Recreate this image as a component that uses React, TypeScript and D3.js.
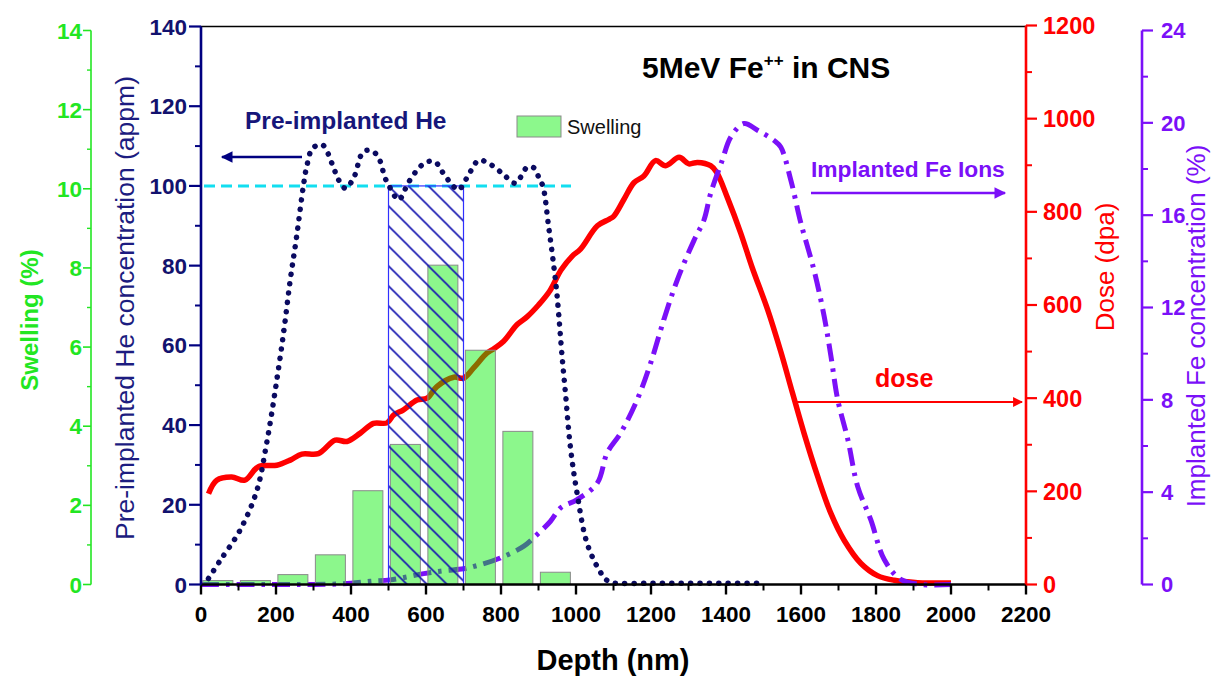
import React from "react";
import * as d3 from "d3";

// ---------------- data ----------------
const swellingBinStart = [0, 100, 200, 300, 400, 500, 600, 700, 800, 900];
const swellingValues = [0.1, 0.1, 0.25, 0.75, 2.37, 3.54, 8.07, 5.92, 3.87, 0.31];

const heDepth = [20, 51, 104, 149, 175, 198, 220, 238, 255, 273, 282, 298, 324, 349, 367, 385, 407, 433, 456, 474, 491, 505, 527, 554, 585, 605, 625, 643, 674, 687, 709, 740, 763, 803, 838, 870, 887, 901, 912, 927, 941, 950, 963, 972, 985, 1003, 1030, 1065, 1083, 1100, 1200, 1300, 1400, 1500];
const heConc = [1.5, 6, 13.6, 23.6, 35.4, 48.7, 63, 76.4, 87.3, 100, 104.9, 109.5, 110.3, 105.7, 101.5, 99.4, 102, 108.6, 108.8, 107, 102, 99.4, 96.5, 101, 104.9, 106.1, 106, 103.6, 99.8, 99, 102, 106.4, 105.9, 103.2, 100.7, 104.7, 104.6, 102.1, 99.8, 89.8, 79.7, 72, 57.1, 47.9, 34.5, 22.8, 10.2, 3.1, 1.0, 0.4, 0.3, 0.3, 0.3, 0.3];

const doseDepth = [20, 42, 82, 117, 153, 202, 238, 269, 313, 358, 389, 425, 460, 496, 514, 540, 576, 603, 629, 674, 700, 727, 763, 781, 807, 843, 870, 900, 930, 960, 990, 1012, 1057, 1088, 1101, 1128, 1155, 1181, 1212, 1239, 1275, 1301, 1324, 1359, 1375, 1404, 1439, 1470, 1511, 1546, 1577, 1608, 1644, 1680, 1715, 1760, 1804, 1849, 1911, 2000];
const doseDpa = [195, 224, 231, 224, 253, 256, 267, 280, 281, 310, 307, 325, 346, 347, 364, 375, 396, 400, 425, 445, 443, 465, 497, 506, 522, 558, 575, 600, 630, 675, 705, 720, 770, 784, 791, 827, 863, 877, 910, 899, 917, 903, 906, 899, 885, 830, 755, 680, 590, 500, 412, 325, 233, 152, 95, 45, 19, 9, 4, 3];

const feDepth = [0, 100, 200, 300, 400, 451, 505, 594, 650, 700, 745, 798, 861, 896, 932, 959, 1003, 1057, 1083, 1119, 1163, 1199, 1234, 1270, 1315, 1341, 1359, 1390, 1413, 1448, 1484, 1528, 1546, 1573, 1599, 1635, 1662, 1680, 1698, 1725, 1751, 1786, 1822, 1866, 1920, 2000];
const feConc = [0, 0, 0, 0, 0.05, 0.14, 0.2, 0.47, 0.6, 0.68, 0.86, 1.15, 1.66, 2.16, 2.74, 3.32, 3.68, 4.4, 5.7, 6.56, 8.0, 9.59, 11.46, 13.19, 14.92, 15.78, 16.94, 18.38, 19.39, 19.97, 19.68, 19.24, 18.95, 17.51, 15.7, 13.6, 11.6, 9.87, 8.0, 6.27, 4.25, 2.81, 1.08, 0.22, 0, 0];

const xTicks = d3.range(0, 2201, 200);
const xMinor = d3.range(100, 2200, 200);
const heTicks = d3.range(0, 141, 20);
const heMinor = d3.range(10, 140, 20);
const swTicks = d3.range(0, 15, 2);
const swMinor = d3.range(1, 14, 2);
const doseTicks = d3.range(0, 1201, 200);
const doseMinor = d3.range(100, 1200, 200);
const feTicks = d3.range(0, 25, 4);
const feMinor = d3.range(2, 24, 4);

const heReference = 100;
const hatchRange = [500, 700];

// ---------------- component ----------------
const FONT = "'Liberation Sans', Arial, Helvetica, sans-serif";

export default function App() {
  const x = d3.scaleLinear().domain([0, 2200]).range([201, 1026]);
  const yHe = d3.scaleLinear().domain([0, 140]).range([584.5, 26.5]);
  const ySw = d3.scaleLinear().domain([0, 14]).range([584.5, 30.5]);
  const yDose = d3.scaleLinear().domain([0, 1200]).range([584.5, 25.5]);
  const yFe = d3.scaleLinear().domain([0, 24]).range([584.5, 30.5]);

  const heLine = d3.line<number>().x((d, i) => x(heDepth[i])).y((d) => yHe(d)).curve(d3.curveCatmullRom.alpha(0.5));
  const doseLine = d3.line<number>().x((d, i) => x(doseDepth[i])).y((d) => yDose(d)).curve(d3.curveCatmullRom.alpha(0.5));
  const feLine = d3.line<number>().x((d, i) => x(feDepth[i])).y((d) => yFe(d)).curve(d3.curveCatmullRom.alpha(0.5));

  const navy = "#000080";
  const navyText = "#12126e";
  const green = "#22e622";
  const red = "#ff0000";
  const purple = "#7b10f8";

  const x0 = x(0), x1 = x(2200);
  const yb = yHe(0);

  return (
    <svg width={1213} height={676} style={{ position: "absolute", left: 0, top: 0, background: "#fff" }} fontFamily={FONT}>
      <defs>
        <pattern id="hatch" patternUnits="userSpaceOnUse" width={20} height={20} x={x(hatchRange[0])} y={yHe(heReference)}>
          <line x1={0} y1={0} x2={20} y2={20} stroke="#1515b0" strokeWidth={1.6} />
          <line x1={-10} y1={10} x2={10} y2={30} stroke="#1515b0" strokeWidth={1.6} />
          <line x1={10} y1={-10} x2={30} y2={10} stroke="#1515b0" strokeWidth={1.6} />
        </pattern>
        <marker id="arrNavy" viewBox="0 0 10 10" refX={9} refY={5} markerWidth={7} markerHeight={4.5} orient="auto-start-reverse" markerUnits="strokeWidth">
          <path d="M0,0 L10,5 L0,10 z" fill={navy} />
        </marker>
        <marker id="arrRed" viewBox="0 0 10 10" refX={9} refY={5} markerWidth={7} markerHeight={4.5} orient="auto" markerUnits="strokeWidth">
          <path d="M0,0 L10,5 L0,10 z" fill={red} />
        </marker>
        <marker id="arrPurple" viewBox="0 0 10 10" refX={9} refY={5} markerWidth={7} markerHeight={4.5} orient="auto" markerUnits="strokeWidth">
          <path d="M0,0 L10,5 L0,10 z" fill={purple} />
        </marker>
      </defs>

      {/* top frame */}
      <line x1={x0} x2={x1} y1={yHe(140)} y2={yHe(140)} stroke="#000" strokeWidth={1.6} />

      {/* cyan reference dashed */}
      <line x1={x0 + 3} x2={x(1000) - 5} y1={yHe(heReference)} y2={yHe(heReference)} stroke="#12def0" strokeWidth={3} strokeDasharray="11 6" />

      {/* dose curve */}
      <path d={doseLine(doseDpa) || ""} fill="none" stroke={red} strokeWidth={5.5} strokeLinejoin="round" />

      {/* Fe curve */}
      <path d={feLine(feConc) || ""} fill="none" stroke={purple} strokeWidth={5} strokeDasharray="18 7 3.5 7" strokeLinecap="butt" />

      {/* swelling bars */}
      {swellingBinStart.map((b, i) => (
        <rect key={b} x={x(b + 5)} width={x(b + 85) - x(b + 5)} y={ySw(swellingValues[i])} height={ySw(0) - ySw(swellingValues[i])}
          fill="#00ee00" fillOpacity={0.45} stroke="#8a8a8a" strokeWidth={1} />
      ))}

      {/* hatched region */}
      <rect x={x(hatchRange[0])} y={yHe(heReference)} width={x(hatchRange[1]) - x(hatchRange[0])} height={yb - yHe(heReference)}
        fill="url(#hatch)" stroke="#3030ff" strokeWidth={1.2} />

      {/* He dotted */}
      <path d={heLine(heConc) || ""} fill="none" stroke="#0a0a60" strokeWidth={5.5} strokeLinecap="round" strokeDasharray="0.1 9.3" />

      {/* X axis */}
      <line x1={x0} x2={x1} y1={yb} y2={yb} stroke="#000" strokeWidth={2.6} />
      {xTicks.map((t) => (
        <g key={t}>
          <line x1={x(t)} x2={x(t)} y1={yb} y2={yb + 10} stroke="#000" strokeWidth={2.4} />
          <text x={x(t)} y={622} textAnchor="middle" fontSize={22.5} fontWeight="bold" fill="#000">{t}</text>
        </g>
      ))}
      {xMinor.map((t) => (
        <line key={t} x1={x(t)} x2={x(t)} y1={yb} y2={yb + 6} stroke="#000" strokeWidth={2} />
      ))}
      <text x={613} y={670} textAnchor="middle" fontSize={29} fontWeight="bold" fill="#000">Depth (nm)</text>

      {/* He axis (left, navy) */}
      <line x1={x0} x2={x0} y1={yHe(0)} y2={yHe(140)} stroke={navy} strokeWidth={2.6} />
      {heTicks.map((t) => (
        <g key={t}>
          <line x1={x0 - 12} x2={x0} y1={yHe(t)} y2={yHe(t)} stroke={navy} strokeWidth={2.2} />
          <text x={187} y={yHe(t)} dy="0.36em" textAnchor="end" fontSize={22.5} fontWeight="bold" fill={navyText}>{t}</text>
        </g>
      ))}
      {heMinor.map((t) => (
        <line key={t} x1={x0 - 6} x2={x0} y1={yHe(t)} y2={yHe(t)} stroke={navy} strokeWidth={2} />
      ))}
      <text transform={`translate(134,${308}) rotate(-90)`} textAnchor="middle" fontSize={26.5} fill="#1c1c80">Pre-implanted He concentration (appm)</text>

      {/* Swelling axis (green) */}
      <line x1={91} x2={91} y1={ySw(0)} y2={ySw(14)} stroke={green} strokeWidth={1.6} />
      {swTicks.map((t) => (
        <g key={t}>
          <line x1={83} x2={91} y1={ySw(t)} y2={ySw(t)} stroke={green} strokeWidth={1.6} />
          <text x={82} y={ySw(t)} dy="0.36em" textAnchor="end" fontSize={22.5} fontWeight="bold" fill={green}>{t}</text>
        </g>
      ))}
      {swMinor.map((t) => (
        <line key={t} x1={87} x2={91} y1={ySw(t)} y2={ySw(t)} stroke={green} strokeWidth={1.4} />
      ))}
      <text transform={`translate(38,${320}) rotate(-90)`} textAnchor="middle" fontSize={24} fontWeight="bold" fill={green}>Swelling (%)</text>

      {/* Dose axis (red) */}
      <line x1={x1} x2={x1} y1={yDose(0)} y2={yDose(1200)} stroke={red} strokeWidth={2.6} />
      {doseTicks.map((t) => (
        <g key={t}>
          <line x1={x1} x2={x1 + 11} y1={yDose(t)} y2={yDose(t)} stroke={red} strokeWidth={2.2} />
          <text x={1043} y={yDose(t)} dy="0.36em" textAnchor="start" fontSize={23.5} fontWeight="bold" fill={red}>{t}</text>
        </g>
      ))}
      {doseMinor.map((t) => (
        <line key={t} x1={x1} x2={x1 + 6} y1={yDose(t)} y2={yDose(t)} stroke={red} strokeWidth={2} />
      ))}
      <text transform={`translate(1114,${267}) rotate(-90)`} textAnchor="middle" fontSize={26} fill={red}>Dose (dpa)</text>

      {/* Fe axis (purple) */}
      <line x1={1142} x2={1142} y1={yFe(0)} y2={yFe(24)} stroke={purple} strokeWidth={2.6} />
      {feTicks.map((t) => (
        <g key={t}>
          <line x1={1142} x2={1153} y1={yFe(t)} y2={yFe(t)} stroke={purple} strokeWidth={2.2} />
          <text x={1161} y={yFe(t)} dy="0.36em" textAnchor="start" fontSize={22} fontWeight="bold" fill={purple}>{t}</text>
        </g>
      ))}
      {feMinor.map((t) => (
        <line key={t} x1={1142} x2={1148} y1={yFe(t)} y2={yFe(t)} stroke={purple} strokeWidth={2} />
      ))}
      <text transform={`translate(1205,${326}) rotate(-90)`} textAnchor="middle" fontSize={26} fill={purple}>Implanted Fe concentration (%)</text>

      {/* title */}
      <text x={642} y={78} fontSize={30} fontWeight="bold" fill="#000">
        5MeV Fe<tspan dy={-12} fontSize={17}>++</tspan><tspan dy={12}> in CNS</tspan>
      </text>

      {/* legend */}
      <rect x={517} y={116} width={44} height={21} fill="#8cf88c" stroke="#8a8a8a" strokeWidth={1} />
      <text x={567} y={134} fontSize={20} fill="#111">Swelling</text>

      {/* annotations */}
      <text x={245} y={129} fontSize={24.5} fontWeight="bold" fill="#16167a">Pre-implanted He</text>
      <line x1={302} x2={222} y1={157} y2={157} stroke={navy} strokeWidth={2.6} markerEnd="url(#arrNavy)" />

      <text x={811} y={177} fontSize={22.8} fontWeight="bold" fill={purple}>Implanted Fe Ions</text>
      <line x1={811} x2={1005} y1={193} y2={193} stroke={purple} strokeWidth={2.6} markerEnd="url(#arrPurple)" />

      <text x={875} y={387} fontSize={25} fontWeight="bold" fill={red}>dose</text>
      <line x1={793} x2={1022} y1={402} y2={402} stroke={red} strokeWidth={2.2} markerEnd="url(#arrRed)" />
    </svg>
  );
}
